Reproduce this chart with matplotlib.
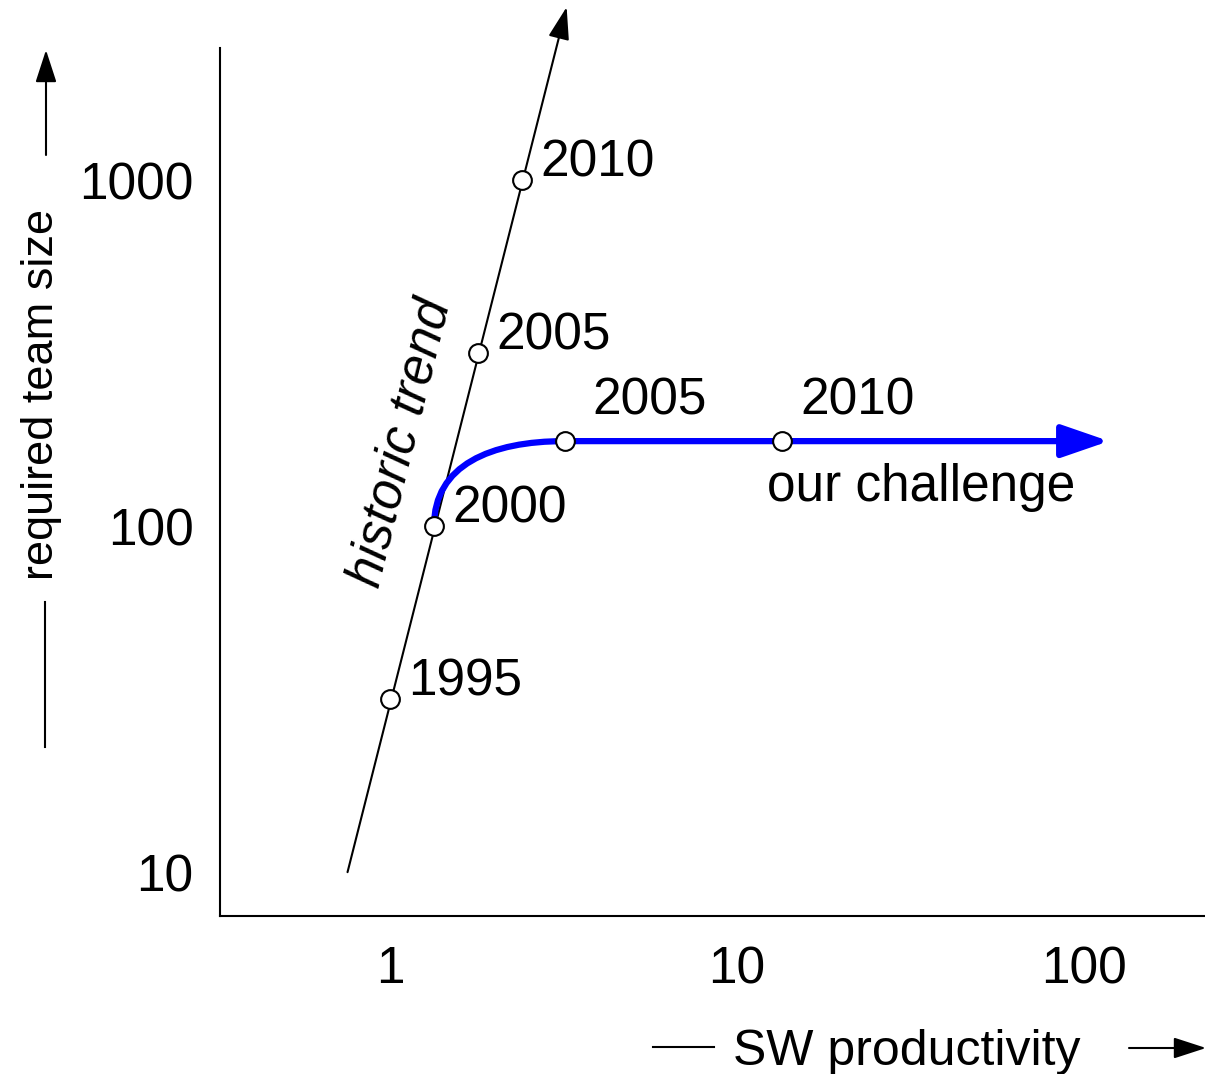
import matplotlib
matplotlib.use("Agg")
import matplotlib.pyplot as plt
from matplotlib.path import Path
from matplotlib.patches import PathPatch
from matplotlib.lines import Line2D

W, H = 1205, 1074

# historic trend (black)
hist_years = ["1995", "2000", "2005", "2010"]
hist_prod = [1.0, 1.34, 1.8, 2.4]
hist_team = [31.6, 100, 316, 1000]
trend_start = (0.755, 10)
trend_end = (3.23, 3160)

# our challenge (blue)
chal_years = ["2005", "2010"]
chal_prod = [3.19, 13.5]
chal_team = [176, 176]
chal_end = 118
# bezier bend from 2000 point to 2005 point
bend_prod = [1.34, 1.34, 1.95, 3.19]
bend_team = [100, 150, 176, 176]

xticks = [1, 10, 100]
yticks = [10, 100, 1000]

plt.rcParams["font.family"] = ["Liberation Sans", "DejaVu Sans"]
blue = "#0000ff"
fs = 37


def fp(x, y):
    # figure pixel (from top-left) -> figure fraction
    return (x / W, 1 - y / H)


fig = plt.figure(figsize=(W / 100, H / 100), dpi=100)
ax = fig.add_axes([220 / W, (H - 916) / H, (W - 220) / W, (916 - 48) / H])
ax.set_xscale("log")
ax.set_yscale("log")
ax.set_xlim(0.324, 223)
ax.set_ylim(7.47, 2407)

ax.spines["top"].set_visible(False)
ax.spines["right"].set_visible(False)
ax.spines["left"].set_linewidth(1.5)
ax.spines["bottom"].set_linewidth(1.5)
ax.set_xticks(xticks)
ax.set_xticklabels([str(t) for t in xticks])
ax.set_yticks(yticks)
ax.set_yticklabels([str(t) for t in yticks])
ax.minorticks_off()
ax.tick_params(axis="x", length=0, pad=21, labelsize=fs)
ax.tick_params(axis="y", length=0, pad=19, labelsize=fs)

# historic trend line with arrow
ax.annotate("", xy=trend_end, xytext=trend_start, annotation_clip=False,
            arrowprops=dict(arrowstyle="-|>,head_length=2.0,head_width=0.65",
                            mutation_scale=10, lw=1.5, color="black",
                            shrinkA=0, shrinkB=0, clip_on=False))

# blue bend
verts = list(zip(bend_prod, bend_team))
codes = [Path.MOVETO, Path.CURVE4, Path.CURVE4, Path.CURVE4]
ax.add_patch(PathPatch(Path(verts, codes), facecolor="none", edgecolor=blue,
                       lw=4.5, transform=ax.transData, zorder=3))
# blue arrow
ax.annotate("", xy=(chal_end, chal_team[0]), xytext=(chal_prod[0], chal_team[0]),
            arrowprops=dict(arrowstyle="-|>,head_length=2.9,head_width=1.0",
                            mutation_scale=10, lw=4.5, color=blue,
                            shrinkA=0, shrinkB=0), zorder=3)

# markers
ax.plot(hist_prod, hist_team, "o", ms=13.5, mfc="white", mec="black", mew=1.5,
        zorder=5, clip_on=False)
ax.plot(chal_prod, chal_team, "o", ms=13.5, mfc="white", mec="black", mew=1.5,
        zorder=5)

for yr, x, y in zip(hist_years, hist_prod, hist_team):
    ax.annotate(yr, (x, y), xytext=(13, 2.5), textcoords="offset points",
                fontsize=fs, ha="left", va="baseline")
for yr, x, y, dx in zip(chal_years, chal_prod, chal_team, [20, 13]):
    ax.annotate(yr, (x, y), xytext=(dx, 19.5), textcoords="offset points",
                fontsize=fs, ha="left", va="baseline")

ax.text(12.2, 118, "our challenge", fontsize=fs, ha="left", va="baseline")
ax.text(1.08, 174, "historic trend", fontsize=fs, style="italic",
        rotation=76, rotation_mode="anchor", ha="center", va="center")

# axis labels with decorations
arrow_style = dict(arrowstyle="-|>,head_length=2.0,head_width=0.65",
                   mutation_scale=10, lw=1.5, color="black", shrinkA=0, shrinkB=0)

fig.text(*fp(907, 1065), "SW productivity", fontsize=36,
         ha="center", va="baseline")
fig.add_artist(Line2D(*zip(fp(653, 1047), fp(714, 1047)), lw=1.5, color="black"))
fig.add_artist(plt.Annotation("", xy=fp(1206, 1048), xytext=fp(1129, 1048),
                              xycoords="figure fraction", arrowprops=arrow_style))

fig.text(*fp(53, 394), "required team size", fontsize=32.5,
         rotation=90, rotation_mode="anchor", ha="center", va="baseline")
fig.add_artist(Line2D(*zip(fp(45, 602), fp(45, 747)), lw=1.5, color="black"))
fig.add_artist(plt.Annotation("", xy=fp(46, 50), xytext=fp(46, 155),
                              xycoords="figure fraction", arrowprops=arrow_style))

fig.savefig("out.png", dpi=100)
